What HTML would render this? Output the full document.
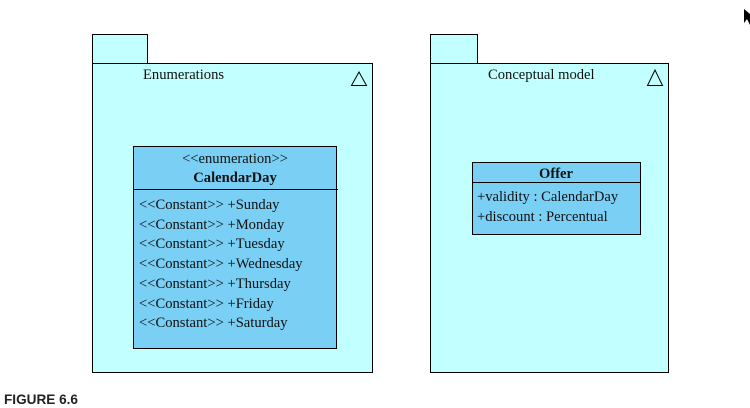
<!DOCTYPE html>
<html><head><meta charset="utf-8"><style>
html,body{margin:0;padding:0;background:#fff;width:750px;height:408px;overflow:hidden}
svg{display:block}
text{font-family:"Liberation Serif",serif;font-size:14.6px;fill:#111}
</style></head><body>
<svg width="750" height="408" viewBox="0 0 750 408" xmlns="http://www.w3.org/2000/svg">
<g stroke="#000" stroke-width="1" fill="#c2ffff">
<rect x="92.5" y="34.5" width="55" height="29"/>
<rect x="92.5" y="63.5" width="280" height="309"/>
<rect x="430.5" y="34.5" width="47" height="29"/>
<rect x="430.5" y="63.5" width="238" height="309"/>
</g>
<g stroke="#000" stroke-width="1" fill="none">
<polygon points="359,72 351.5,85.5 366.5,85.5"/>
<polygon points="655,70 647.5,85.5 662.5,85.5"/>
</g>
<text x="143" y="79">Enumerations</text>
<text x="488" y="79">Conceptual model</text>
<rect x="133.5" y="146.5" width="203" height="202" fill="#7acff5" stroke="#000"/>
<line x1="133.5" y1="189.5" x2="338" y2="189.5" stroke="#000"/>
<text x="235" y="163" text-anchor="middle">&lt;&lt;enumeration&gt;&gt;</text>
<text x="235" y="182" text-anchor="middle" font-weight="bold">CalendarDay</text>
<text x="139" y="209">&lt;&lt;Constant&gt;&gt; +Sunday</text>
<text x="139" y="229">&lt;&lt;Constant&gt;&gt; +Monday</text>
<text x="139" y="248">&lt;&lt;Constant&gt;&gt; +Tuesday</text>
<text x="139" y="268">&lt;&lt;Constant&gt;&gt; +Wednesday</text>
<text x="139" y="288">&lt;&lt;Constant&gt;&gt; +Thursday</text>
<text x="139" y="308">&lt;&lt;Constant&gt;&gt; +Friday</text>
<text x="139" y="327">&lt;&lt;Constant&gt;&gt; +Saturday</text>
<rect x="472.5" y="162.5" width="168" height="72" fill="#7acff5" stroke="#000"/>
<line x1="472.5" y1="182.5" x2="640.5" y2="182.5" stroke="#000"/>
<text x="556" y="178" text-anchor="middle" font-weight="bold">Offer</text>
<text x="477" y="201">+validity : CalendarDay</text>
<text x="477" y="221">+discount : Percentual</text>
<polygon points="744,9 744,23 747,19 750,25 750,14" fill="#000"/>
<text x="4" y="404" textLength="74" lengthAdjust="spacingAndGlyphs" style="font-family:'Liberation Sans',sans-serif;font-size:14px;font-weight:bold;fill:#222">FIGURE 6.6</text>
</svg>
</body></html>
